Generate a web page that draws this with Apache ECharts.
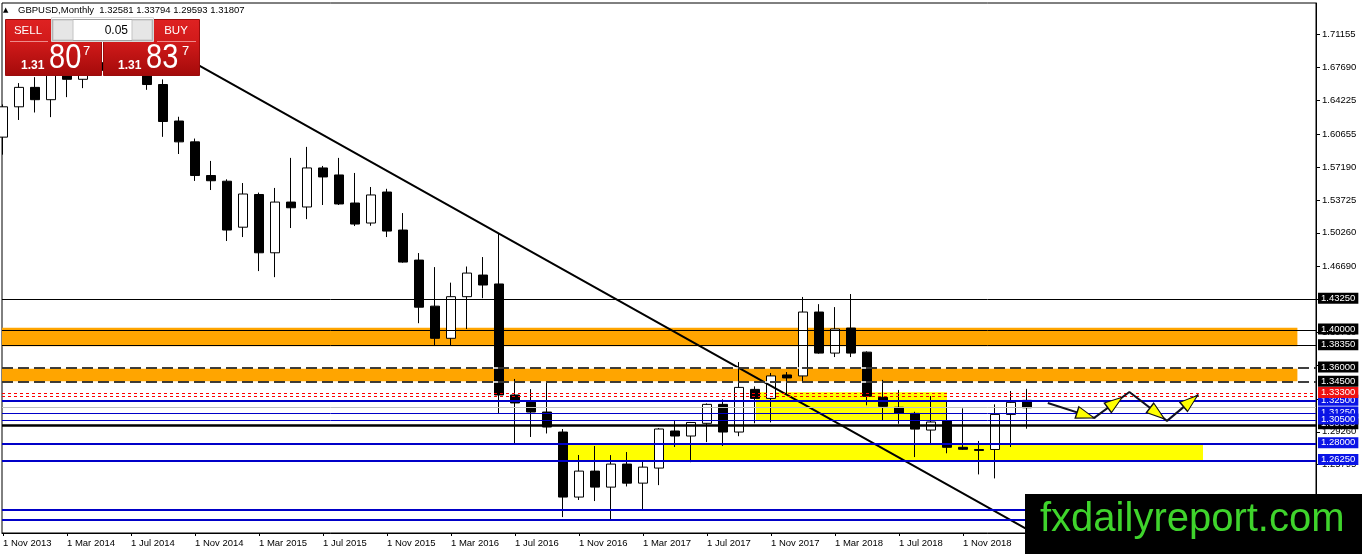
<!DOCTYPE html>
<html><head><meta charset="utf-8">
<script src="https://cdn.jsdelivr.net/npm/echarts@6/dist/echarts.min.js"></script>
<style>html,body{margin:0;padding:0;background:#fff}#c{width:1362px;height:554px}</style>
</head><body><div id="c"></div>
<script>
// ---------- data ----------
const symbolName = 'GBPUSD';
const timeframe = 'Monthly';
const months = ['2013-11','2013-12','2014-01','2014-02','2014-03','2014-04','2014-05','2014-06','2014-07','2014-08','2014-09','2014-10','2014-11','2014-12',
 '2015-01','2015-02','2015-03','2015-04','2015-05','2015-06','2015-07','2015-08','2015-09','2015-10','2015-11','2015-12',
 '2016-01','2016-02','2016-03','2016-04','2016-05','2016-06','2016-07','2016-08','2016-09','2016-10','2016-11','2016-12',
 '2017-01','2017-02','2017-03','2017-04','2017-05','2017-06','2017-07','2017-08','2017-09','2017-10','2017-11','2017-12',
 '2018-01','2018-02','2018-03','2018-04','2018-05','2018-06','2018-07','2018-08','2018-09','2018-10','2018-11','2018-12',
 '2019-01','2019-02','2019-03'];
const opens  = [1.6035,1.6355,1.6560,1.6430,1.6745,1.6645,1.6820,1.6740,1.7105,1.6885,1.6590,1.6205,1.5985,1.5630,
 1.5570,1.5085,1.5430,1.4815,1.5350,1.5298,1.5710,1.5636,1.5340,1.5129,1.5456,1.5055,
 1.4738,1.4252,1.3913,1.4352,1.4580,1.4486,1.3315,1.3240,1.3135,1.2924,1.2238,1.2512,
 1.2343,1.2586,1.2385,1.2544,1.2935,1.2882,1.3016,1.3216,1.2924,1.3374,1.3279,1.3526,
 1.3516,1.4190,1.3757,1.4021,1.3767,1.3290,1.3185,1.3121,1.2945,1.3040,1.2763,1.2740,
 1.2740,1.3110,1.32581];
const highs  = [1.6380,1.6605,1.6668,1.6823,1.6822,1.6920,1.6996,1.7110,1.7192,1.6895,1.6644,1.6250,1.6020,1.5784,
 1.5590,1.5551,1.5450,1.5499,1.5816,1.5932,1.5731,1.5816,1.5657,1.5509,1.5490,1.5234,
 1.4812,1.4664,1.4500,1.4670,1.4770,1.5018,1.3484,1.3377,1.3442,1.2956,1.2682,1.2777,
 1.2681,1.2713,1.2617,1.2966,1.3040,1.3030,1.3226,1.3269,1.3662,1.3406,1.3547,1.3557,
 1.4349,1.4273,1.4242,1.4380,1.3775,1.3474,1.3368,1.3138,1.3304,1.3260,1.3174,1.2830,
 1.3216,1.3357,1.33794];
const lows   = [1.5850,1.6216,1.6295,1.6246,1.6457,1.6552,1.6692,1.6693,1.6848,1.6534,1.6038,1.5857,1.5573,1.5477,
 1.4939,1.4981,1.4622,1.4558,1.5076,1.5170,1.5319,1.5319,1.5097,1.5100,1.4981,1.4710,
 1.4072,1.3839,1.3835,1.4011,1.4336,1.3122,1.2797,1.2872,1.2909,1.2027,1.2207,1.2196,
 1.1996,1.2350,1.2110,1.2364,1.2766,1.2606,1.2818,1.2777,1.2880,1.3016,1.3026,1.3315,
 1.3452,1.3750,1.3715,1.3715,1.3206,1.3050,1.3011,1.2660,1.2808,1.2700,1.2735,1.2477,
 1.2435,1.2766,1.29593];
const closes = [1.6355,1.6560,1.6430,1.6745,1.6645,1.6820,1.6740,1.7105,1.6885,1.6590,1.6200,1.5985,1.5630,1.5575,
 1.5055,1.5435,1.4815,1.5350,1.5290,1.5710,1.5615,1.5330,1.5118,1.5425,1.5044,1.4717,
 1.4241,1.3913,1.4352,1.4601,1.4475,1.3315,1.3231,1.3135,1.2977,1.2238,1.2512,1.2343,
 1.2586,1.2385,1.2554,1.2956,1.2882,1.3025,1.3216,1.2924,1.3395,1.3279,1.3516,1.3495,
 1.4190,1.3757,1.4011,1.3757,1.3301,1.3195,1.3121,1.2955,1.3030,1.2763,1.2742,1.2730,
 1.3110,1.3237,1.31807];
const timeTickIndex  = [0,4,8,12,16,20,24,28,32,36,40,44,48,52,56,60,64];
const timeTickLabels = ['1 Nov 2013','1 Mar 2014','1 Jul 2014','1 Nov 2014','1 Mar 2015','1 Jul 2015','1 Nov 2015','1 Mar 2016',
 '1 Jul 2016','1 Nov 2016','1 Mar 2017','1 Jul 2017','1 Nov 2017','1 Mar 2018','1 Jul 2018','1 Nov 2018','1 Mar 2019'];
const priceTicks = [1.71155,1.67690,1.64225,1.60655,1.57190,1.53725,1.50260,1.46690,1.43225,1.39760,1.36295,1.32725,1.29260,1.25795,1.22330,1.18760];
const bidLevels    = [1.31807];
const blackLevels  = [1.4325,1.4000,1.3835,1.3000];
const dashedLevels = [1.3600,1.3450];
const blueLevels   = [1.3250,1.3125,1.3050,1.2800,1.2625,1.2100,1.2000];
const redLevels    = [1.3330,1.3300];
const redLabelled  = [true,false];
// zones: [startIndex (null = chart start), endIndex, upper price, lower price]
const orangeZones = [[null,80.9,1.4025,1.3828],[null,80.9,1.3600,1.3450]];
const yellowZones = [[35.3,75.0,1.2800,1.2625],[47.06,59.0,1.3345,1.3050]];
const trendAnchors = [[8,1.7192],[31,1.5018]];
const zigzag = [[65.3,1.3231],[68.2,1.3073],[70.4,1.3347],[72.75,1.3042],[74.7,1.3316]];
const lotSize = '0.05';
const sellQuote = ['1.31','80','7'];
const buyQuote  = ['1.31','83','7'];
const watermark = 'fxdailyreport.com';

// ---------- chart ----------
const X_MIN = -0.0625, X_MAX = 82.0625, Y_MIN = 1.1859, Y_MAX = 1.7450;
const FONT = '"Liberation Sans", Arial, sans-serif';
const candles = months.map((m, i) => [i, opens[i], closes[i], lows[i], highs[i]]);
const last = candles.length - 1;
const slope = (trendAnchors[1][1] - trendAnchors[0][1]) / (trendAnchors[1][0] - trendAnchors[0][0]);
const trendEndX = 86;
const trendData = [trendAnchors[0], trendAnchors[1], [trendEndX, trendAnchors[0][1] + slope * (trendEndX - trendAnchors[0][0])]];

function zoneData(zones) {
  return zones.map(z => [{coord: [z[0] == null ? X_MIN : z[0], z[2]]}, {coord: [z[1], z[3]]}]);
}
const labelBase = {show: true, position: 'end', distance: 2, color: '#fff', fontSize: 9.5, fontFamily: FONT,
  padding: [1, 3, 0, 3], lineHeight: 10, offset: [0, -1]};
function levelSeries(values, lineStyle, bg, labelled) {
  return {
    type: 'line', data: [], silent: true, z: 5,
    markLine: {
      silent: true, symbol: ['none', 'none'], precision: 5, animation: false,
      lineStyle: lineStyle,
      label: bg ? Object.assign({}, labelBase, {backgroundColor: bg}) : {show: false},
      emphasis: {disabled: true},
      data: values.map((v, k) => ({yAxis: v, label: (bg && (!labelled || labelled[k])) ? {formatter: v.toFixed(5)} : {show: false}}))
    }
  };
}

const chart = echarts.init(document.getElementById('c'), null, {renderer: 'canvas'});
const redGrad = {type: 'linear', x: 0, y: 0, x2: 0, y2: 1,
  colorStops: [{offset: 0, color: '#df2222'}, {offset: 0.4, color: '#d11a1a'}, {offset: 1, color: '#a30a0a'}]};
const header = '\u25B2';
const headerText = symbolName + ',' + timeframe + '  ' + [opens[last], highs[last], lows[last], closes[last]].map(v => v.toFixed(5)).join(' ');

function txt(x, y, text, font, fill, align, vAlign, sy) {
  return {type: 'text', x: x, y: y, z: 101, silent: true, scaleY: sy || 1, originX: 0, originY: 0,
    style: {text: text, font: font, fill: fill, align: align || 'left', textAlign: align || 'left',
      verticalAlign: vAlign || 'middle', textVerticalAlign: vAlign || 'middle'}};
}
const graphics = [
  txt(3, 10, header, '7px "DejaVu Sans"', '#000'),
  txt(18, 10, headerText, '9.5px ' + FONT, '#000'),
  {type: 'rect', z: 100, silent: true, shape: {x: 5.5, y: 19.5, width: 96, height: 56}, style: {fill: redGrad, stroke: '#9a0c0c', lineWidth: 1}},
  {type: 'rect', z: 100, silent: true, shape: {x: 103.5, y: 19.5, width: 96, height: 56}, style: {fill: redGrad, stroke: '#9a0c0c', lineWidth: 1}},
  {type: 'line', z: 101, silent: true, shape: {x1: 10, y1: 41.5, x2: 48, y2: 41.5}, style: {stroke: '#ee8a8a', lineWidth: 1}},
  {type: 'line', z: 101, silent: true, shape: {x1: 157, y1: 41.5, x2: 196, y2: 41.5}, style: {stroke: '#ee8a8a', lineWidth: 1}},
  {type: 'rect', z: 101, silent: true, shape: {x: 51.5, y: 17.5, width: 102, height: 24}, style: {fill: '#fff', stroke: '#d8d8d8', lineWidth: 1}},
  {type: 'rect', z: 101, silent: true, shape: {x: 52.5, y: 19.5, width: 100, height: 21}, style: {fill: '#fff', stroke: '#a0a0a0', lineWidth: 1}},
  {type: 'rect', z: 102, silent: true, shape: {x: 53, y: 20, width: 20, height: 20}, style: {fill: '#e6e6e6', stroke: '#c4c4c4', lineWidth: 1}},
  {type: 'rect', z: 102, silent: true, shape: {x: 132, y: 20, width: 20, height: 20}, style: {fill: '#e6e6e6', stroke: '#c4c4c4', lineWidth: 1}},
  txt(63, 30, '\u25BC', '6px "DejaVu Sans"', '#000', 'center'),
  txt(142, 30, '\u25B2', '6px "DejaVu Sans"', '#000', 'center'),
  txt(128, 30.5, lotSize, '12px ' + FONT, '#000', 'right'),
  txt(28, 31, 'SELL', '11.5px ' + FONT, '#fff', 'center'),
  txt(176, 31, 'BUY', '11.5px ' + FONT, '#fff', 'center'),
  txt(21, 66, sellQuote[0], 'bold 12px ' + FONT, '#fff'),
  txt(49, 58, sellQuote[1], '29px ' + FONT, '#fff', 'left', 'middle', 1.2),
  txt(83, 51, sellQuote[2], '13px ' + FONT, '#fff'),
  txt(118, 66, buyQuote[0], 'bold 12px ' + FONT, '#fff'),
  txt(146, 58, buyQuote[1], '29px ' + FONT, '#fff', 'left', 'middle', 1.2),
  txt(182, 51, buyQuote[2], '13px ' + FONT, '#fff'),
  {type: 'rect', z: 100, silent: true, shape: {x: 1025, y: 494, width: 337, height: 60}, style: {fill: '#000'}},
  txt(1040, 520, watermark, '40px ' + FONT, '#3fd42c')
];

const option = {
  animation: false,
  backgroundColor: '#fff',
  textStyle: {fontFamily: FONT},
  grid: {left: 2, right: 46, top: 3, bottom: 21, show: true, borderColor: '#000', borderWidth: 1,
    backgroundColor: 'rgba(0,0,0,0)', containLabel: false, outerBoundsMode: 'none'},
  xAxis: {
    type: 'value', min: X_MIN, max: X_MAX, splitLine: {show: false},
    axisLine: {show: true, onZero: false, lineStyle: {color: '#000', width: 1}},
    axisTick: {show: true, customValues: timeTickIndex, length: 3, lineStyle: {color: '#000'}},
    axisLabel: {customValues: timeTickIndex, align: 'left', margin: 5, color: '#000', fontSize: 9.5, fontFamily: FONT,
      formatter: v => timeTickLabels[timeTickIndex.indexOf(Math.round(v))] || ''}
  },
  yAxis: {
    type: 'value', position: 'right', min: Y_MIN, max: Y_MAX, scale: true, splitLine: {show: false},
    axisLine: {show: true, onZero: false, lineStyle: {color: '#000', width: 1}},
    axisTick: {show: true, customValues: priceTicks, length: 4, lineStyle: {color: '#000'}},
    axisLabel: {customValues: priceTicks, margin: 6, color: '#000', fontSize: 9.5, fontFamily: FONT,
      formatter: v => Number(v).toFixed(5)}
  },
  graphic: {elements: graphics},
  series: [
    {type: 'line', data: [], silent: true, z: 1,
      markArea: {silent: true, z: 1, itemStyle: {color: '#ffa500'}, data: zoneData(orangeZones)}},
    {type: 'line', data: [], silent: true, z: 1,
      markArea: {silent: true, z: 1, itemStyle: {color: '#ffff00'}, data: zoneData(yellowZones)}},
    {type: 'candlestick', data: candles, z: 2, barWidth: 9, silent: true,
      itemStyle: {color: '#fff', color0: '#000', borderColor: '#000', borderColor0: '#000', borderColorDoji: '#000', borderWidth: 1}},
    {type: 'line', data: trendData, symbol: 'none', z: 3, silent: true, clip: true,
      lineStyle: {color: '#000', width: 2}},
    levelSeries(bidLevels, {color: '#c0c0c0', width: 1, type: 'solid'}, null),
    levelSeries(blackLevels.slice(0, 3), {color: '#000', width: 1, type: 'solid'}, '#000'),
    levelSeries(dashedLevels, {color: '#fff', width: 1.5, type: 'solid'}, null),
    levelSeries(dashedLevels, {color: '#000', width: 1.5, type: [11, 5]}, '#000'),
    levelSeries(blackLevels.slice(3), {color: '#000', width: 2.5, type: 'solid'}, '#000'),
    levelSeries(blueLevels.slice(0, 1), {color: '#0000c8', width: 2, type: 'solid'}, '#0a14e6'),
    levelSeries(blueLevels.slice(1, 3), {color: '#0000c8', width: 1, type: 'solid'}, '#0a14e6'),
    levelSeries(blueLevels.slice(3), {color: '#0000c8', width: 2, type: 'solid'}, '#0a14e6'),
    levelSeries(redLevels, {color: '#ff0000', width: 1, type: [3, 3]}, '#ee1111', redLabelled),
    {type: 'line', data: zigzag, symbol: 'none', z: 6, silent: true, lineStyle: {color: '#111122', width: 2}},
    {id: 'heads', type: 'scatter', data: [], z: 7, silent: true, symbol: 'triangle', symbolSize: [12, 18],
      itemStyle: {color: '#ffff00', borderColor: '#111', borderWidth: 1.2, opacity: 1}}
  ]
};
chart.setOption(option);

// arrowheads: aligned with each zigzag segment in screen space
const tipAt = [1.0, 0.8, 0.93, 0.98];
const headLen = 18;
const px = zigzag.map(p => chart.convertToPixel({gridIndex: 0}, p));
const heads = [];
for (let k = 0; k < px.length - 1; k++) {
  const dx = px[k + 1][0] - px[k][0], dy = px[k + 1][1] - px[k][1];
  const L = Math.hypot(dx, dy), ux = dx / L, uy = dy / L;
  const tx = px[k][0] + dx * tipAt[k], ty = px[k][1] + dy * tipAt[k];
  const c = chart.convertFromPixel({gridIndex: 0}, [tx - ux * headLen / 2, ty - uy * headLen / 2]);
  heads.push({value: c, symbolRotate: Math.atan2(-ux, -uy) * 180 / Math.PI});
}
chart.setOption({series: [{id: 'heads', data: heads}]});
</script>
</body></html>
